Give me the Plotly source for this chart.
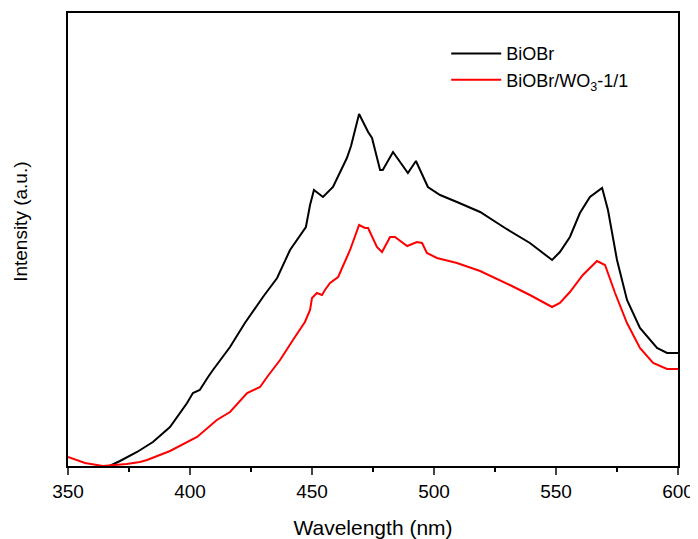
import plotly.graph_objects as go

# BiOBr (black)
wl_biobr = [367, 371.3, 378.3, 384.8, 391.8, 398.8, 401.2, 404, 407.4, 409.4, 416.4, 422.5,
            429.9, 435.7, 441, 445.1, 447.5, 449.2, 450.8, 454.5, 458.6, 464.3, 466, 469.3,
            473, 474.6, 477.9, 479, 483.2, 489.3, 492.6, 497.5, 502.5, 509.4, 518.9, 529.1,
            539.3, 548.4, 551.6, 555.7, 559.8, 563.9, 568.9, 571.3, 575, 579.1, 584.4, 591.4,
            595.5, 600]
int_biobr = [0, 5, 14, 24, 39, 63, 73, 76, 89, 96, 119, 143,
             169, 188, 216, 231, 239, 261, 276, 269, 279, 308, 320, 352,
             334, 328, 296, 296, 314, 293, 305, 279, 271, 264, 254, 238,
             223, 206, 214, 229, 253, 269, 278, 256, 206, 166, 138, 118,
             113, 113]

# BiOBr/WO3-1/1 (red)
wl_comp = [350, 357, 364.3, 374, 379.5, 382.4, 391.8, 402.9, 411, 416.4, 423.4, 428.7,
           431.6, 436.9, 442.2, 445, 447.1, 449.2, 450, 452, 454.1, 455.3, 457.4, 460.7,
           465.6, 469.3, 471.7, 473, 476.6, 478.7, 482, 484, 489, 493, 495.1, 497.1,
           501.2, 509.4, 518.9, 531.1, 539.3, 548.4, 551.6, 555.7, 561, 566.8, 570.1, 574.2,
           579.1, 584.4, 589.8, 595.5, 600]
int_comp = [9, 3, 0, 2, 4, 6, 15, 29, 46, 54, 73, 79,
            89, 106, 126, 136, 144, 156, 168, 173, 171, 176, 183, 189,
            216, 241, 238, 238, 219, 214, 229, 229, 220, 224, 223, 213,
            208, 203, 195, 181, 171, 159, 163, 174, 191, 205, 201, 173,
            143, 118, 103, 97, 97]

x_ticks = [350, 400, 450, 500, 550, 600]

FONT = "Arial, Liberation Sans, sans-serif"

fig = go.Figure()
fig.add_trace(go.Scatter(x=wl_biobr, y=int_biobr, mode="lines", name="BiOBr",
                         line=dict(color="black", width=2)))
fig.add_trace(go.Scatter(x=wl_comp, y=int_comp, mode="lines", name="BiOBr/WO<sub>3</sub>-1/1",
                         line=dict(color="#ff0000", width=2)))

fig.update_layout(
    width=690, height=531,
    margin=dict(l=60, r=20, t=5, b=73),
    paper_bgcolor="white", plot_bgcolor="white",
    font=dict(family=FONT, color="black", size=19),
    showlegend=True,
    legend=dict(x=0.62, y=0.951, xanchor="left", yanchor="top",
                bgcolor="rgba(0,0,0,0)", borderwidth=0,
                font=dict(family=FONT, size=18, color="black"),
                itemwidth=50, tracegroupgap=0),
    xaxis=dict(range=[350, 600], tickvals=x_ticks, ticks="outside", ticklen=7, tickwidth=1.5,
               showline=True, linewidth=2, linecolor="black", mirror=True,
               showgrid=False, zeroline=False, automargin=False,
               minor=dict(dtick=25, ticks="outside", ticklen=4, tickwidth=1.5, tickcolor="black", showgrid=False),
               tickfont=dict(family=FONT, size=19),
               title=dict(text="Wavelength (nm)", font=dict(family=FONT, size=21), standoff=20)),
    yaxis=dict(range=[0, 453], showticklabels=False, ticks="",
               showline=True, linewidth=2, linecolor="black", mirror=True,
               showgrid=False, zeroline=False, automargin=False),
    annotations=[dict(text="Intensity (a.u.)", xref="paper", yref="paper",
                      x=-0.077, y=0.539, xanchor="center", yanchor="middle",
                      textangle=-90, showarrow=False,
                      font=dict(family=FONT, size=19, color="black"))],
)

fig.write_html("out.html")
